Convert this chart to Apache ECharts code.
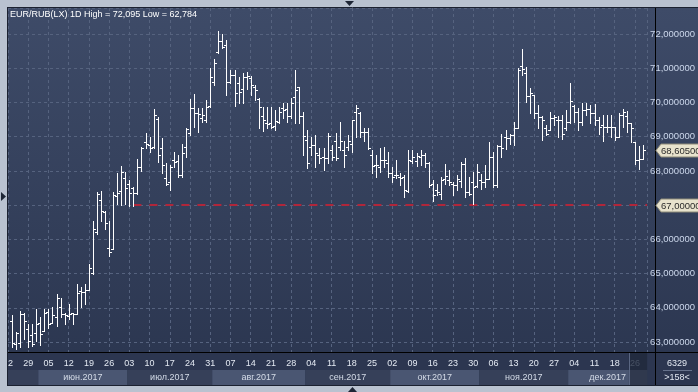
<!DOCTYPE html>
<html><head><meta charset="utf-8">
<script src="https://cdn.jsdelivr.net/npm/echarts@6/dist/echarts.min.js"></script>
<style>html,body{margin:0;padding:0;background:#b9c2d0}#c{width:698px;height:392px}</style>
</head><body><div id="c"></div>
<script>
// ---- data ----
const titleText = 'EUR/RUB(LX) 1D High = 72,095 Low = 62,784';
const weekLabels = ['22','29','05','12','19','26','03','10','17','24','31','07','14','21','28','04','11','18','25','02','09','16','23','30','06','13','20','27','04','11','18','26'];
const monthNames = ['июн.2017','июл.2017','авг.2017','сен.2017','окт.2017','ноя.2017','дек.2017'];
const monthFirstBar = [7, 29, 50, 73, 94, 116, 138];
const lastWeekFirstBar = 153;
const opens = [63.60,62.94,62.96,63.81,63.37,63.21,63.26,63.57,63.33,63.89,63.57,63.72,64.01,63.81,63.75,63.84,63.81,64.50,64.45,64.52,
65.03,66.20,67.15,66.79,65.76,65.71,67.27,67.40,67.78,67.63,67.49,67.34,68.12,68.85,68.75,68.71,69.53,68.68,67.78,67.68,
68.32,68.30,67.88,68.71,69.10,69.83,69.70,69.55,69.50,69.89,70.60,71.46,71.81,71.68,70.61,70.80,70.56,70.38,70.73,70.71,
70.44,70.09,69.60,69.41,69.40,69.30,69.44,69.83,69.80,69.60,70.17,70.46,69.59,68.90,68.70,68.76,68.45,68.40,68.37,68.60,
68.86,68.70,68.60,68.70,68.80,69.73,69.68,69.15,69.15,68.45,68.17,68.10,68.32,68.22,67.93,67.88,67.83,67.82,67.41,68.30,
68.30,68.40,68.46,68.23,67.61,67.45,67.33,67.75,67.73,67.63,67.58,67.70,68.21,67.38,67.68,67.55,67.73,67.68,67.77,68.41,
67.58,68.72,69.00,68.95,69.04,69.24,71.07,70.85,70.19,70.22,69.70,69.58,69.24,69.20,69.56,69.50,69.48,69.25,69.44,69.90,
69.73,69.44,69.78,69.80,69.68,69.48,69.35,69.29,69.27,69.29,69.00,69.63,69.60,69.39,68.85,68.31,68.36];
const highs = [63.79,63.29,63.91,63.86,63.52,63.52,63.96,63.72,63.96,63.96,64.01,64.40,64.30,63.86,64.11,63.86,64.69,64.60,64.69,65.29,
66.54,67.37,67.42,66.83,66.54,67.37,67.93,68.14,67.97,67.73,67.54,68.34,68.71,69.10,68.98,69.80,69.58,68.95,68.22,68.17,
68.56,68.46,68.80,69.24,70.09,70.25,69.83,69.83,70.07,71.00,71.26,72.095,72.00,71.82,70.95,70.95,70.73,70.85,70.90,70.76,
70.51,70.12,69.88,69.88,69.88,69.78,69.88,69.98,69.98,70.12,70.95,70.46,69.73,69.20,69.00,69.05,68.66,68.66,69.10,68.76,
69.10,69.44,68.86,69.05,69.49,69.93,69.73,69.25,69.25,68.61,68.47,68.66,68.71,68.56,68.12,68.32,67.95,67.88,68.60,68.62,
68.51,68.62,68.51,68.26,67.73,67.63,67.82,68.21,68.02,67.68,67.87,68.26,68.39,67.82,67.97,68.21,67.92,68.17,68.85,68.56,
68.75,69.09,69.19,69.09,69.44,71.00,71.56,71.03,70.41,70.22,69.92,69.60,69.34,69.73,69.63,69.60,69.63,69.78,70.56,69.92,
69.83,69.97,69.97,69.92,69.95,69.58,69.63,69.63,69.63,69.29,69.68,69.80,69.75,69.40,68.85,68.72,68.75];
const lows = [62.85,62.784,62.84,63.08,62.84,62.89,63.03,62.92,63.33,63.42,63.57,63.47,63.72,63.54,63.67,63.54,63.81,64.01,64.11,64.51,
65.00,66.15,66.54,66.30,65.50,65.71,67.03,67.00,67.03,66.98,66.98,67.32,68.00,68.66,68.56,68.66,68.27,67.95,67.58,67.44,
68.12,67.83,67.83,68.41,69.05,69.29,69.14,69.44,69.44,69.86,70.51,71.45,71.58,70.22,70.56,69.89,69.97,69.97,70.40,70.22,
70.07,69.25,69.18,69.25,69.25,69.20,69.39,69.54,69.44,69.54,69.39,69.39,68.47,68.08,68.47,68.12,68.22,68.03,68.22,68.32,
68.32,68.61,68.11,68.61,68.56,69.00,69.00,68.86,68.63,67.93,67.83,67.98,68.12,67.83,67.69,67.78,67.60,67.25,67.38,68.23,
68.14,68.17,68.12,67.53,67.12,67.29,67.19,67.63,67.58,67.29,67.43,67.53,67.24,67.29,67.02,67.53,67.48,67.53,67.77,67.53,
67.53,68.41,68.65,68.80,68.75,69.24,70.80,70.02,69.68,69.56,69.24,68.90,69.04,69.19,69.34,69.00,68.92,69.20,69.39,69.44,
69.19,69.34,69.63,69.41,69.34,69.09,68.88,69.14,69.00,68.90,69.00,69.29,69.14,68.85,68.19,68.07,68.36];
const closes = [62.96,63.26,63.81,63.60,63.03,62.94,63.54,63.23,63.86,63.52,63.79,64.30,63.81,63.79,63.81,63.83,64.42,64.45,64.52,65.16,
66.30,67.32,66.83,66.49,65.62,67.30,67.36,67.97,67.50,67.34,67.34,68.12,68.68,68.80,68.68,69.63,68.46,68.17,67.63,68.12,
68.27,67.88,68.51,69.21,69.83,69.70,69.65,69.63,69.86,70.73,71.14,71.81,71.61,70.61,70.80,70.28,70.31,70.73,70.76,70.51,
70.37,69.88,69.49,69.37,69.29,69.46,69.73,69.78,69.61,69.98,70.37,69.59,69.02,68.22,68.76,68.51,68.37,68.37,69.02,68.42,
68.37,68.86,68.47,68.86,69.49,69.83,69.15,69.15,68.66,68.14,68.17,68.32,68.32,67.93,67.83,67.88,67.80,67.45,68.31,68.41,
68.43,68.46,68.23,67.58,67.29,67.38,67.73,67.84,67.68,67.60,67.77,68.21,67.38,67.33,67.53,67.97,67.68,67.77,68.41,67.58,
68.72,68.68,68.95,69.04,69.24,70.95,70.97,70.19,70.29,69.70,69.58,69.48,69.09,69.56,69.58,69.48,69.09,69.44,70.04,69.73,
69.44,69.78,69.80,69.68,69.48,69.29,69.29,69.27,69.29,69.00,69.63,69.73,69.39,69.24,68.31,68.36,68.605];
const lastPrice = 68.605;
const levelPrice = 67.0;
const levelStartBar = 30;
const cornerTop = '6329';
const cornerBottom = '>158<';

// ---- chart ----
const FONT = '"Liberation Sans", Arial, sans-serif';
const xMin = -1, xMax = 157;
const yMin = 62.708, yMax = 72.76;
const ohlc = opens.map((o, i) => [i, o, highs[i], lows[i], closes[i]]);
const chart = echarts.init(document.getElementById('c'), null, {renderer: 'canvas'});

function renderItem(params, api) {
  const i = api.value(0);
  const pH = api.coord([i, api.value(2)]);
  const pL = api.coord([i, api.value(3)]);
  const pO = api.coord([i, api.value(1)]);
  const pC = api.coord([i, api.value(4)]);
  const x = Math.round(pH[0]) + 0.5;
  const yo = Math.round(pO[1]) + 0.5, yc = Math.round(pC[1]) + 0.5;
  const st = {stroke: '#ffffff', lineWidth: 1};
  return {type: 'group', children: [
    {type: 'line', shape: {x1: x, y1: Math.round(pH[1]), x2: x, y2: Math.round(pL[1]) + 1}, style: st},
    {type: 'line', shape: {x1: x - 2.5, y1: yo, x2: x, y2: yo}, style: st},
    {type: 'line', shape: {x1: x, y1: yc, x2: x + 2.5, y2: yc}, style: st}
  ]};
}

const isInt = v => Math.abs(v - Math.round(v)) < 1e-6;

chart.setOption({
  animation: false,
  backgroundColor: '#b9c2d0',
  grid: {left: 8, right: 43, top: 8, bottom: 40, containLabel: false},
  xAxis: {
    type: 'value', min: xMin, max: xMax, interval: 5,
    axisLine: {show: true, onZero: false, lineStyle: {color: '#000000', width: 1}},
    axisTick: {show: false},
    axisLabel: {
      show: true, margin: 7, color: '#e3e9f2', fontSize: 9, fontFamily: FONT,
      formatter: v => {
        const k = (v - xMin) / 5;
        if (!isInt(k) || k >= weekLabels.length) return '';
        const t = weekLabels[Math.round(k)];
        return Math.round(k) === weekLabels.length - 1 ? '{dim|' + t + '}' : t;
      },
      rich: {dim: {color: '#7b889f', fontSize: 9, fontFamily: FONT}}
    },
    splitLine: {show: true, lineStyle: {color: '#56637f', width: 1, type: [3, 3]}}
  },
  yAxis: {
    type: 'value', position: 'right', min: yMin, max: yMax, splitNumber: 10, minInterval: 1, maxInterval: 1,
    axisLine: {show: false}, axisTick: {show: false},
    axisLabel: {
      show: true, margin: 3, color: '#cdd8ec', fontSize: 9.5, fontFamily: FONT, align: 'left',
      formatter: v => (isInt(v) && Math.abs(v - levelPrice) > 1e-6) ? v.toFixed(6).replace('.', ',') : ''
    },
    splitLine: {show: true, lineStyle: {color: '#56637f', width: 1, type: [3, 3]}}
  },
  series: [{
    type: 'custom', data: ohlc, renderItem, clip: true, z: 5,
    encode: {x: 0, y: [1, 2, 3, 4]},
    markLine: {
      silent: true, symbol: ['none', 'none'], label: {show: false}, z: 4,
      lineStyle: {color: '#b0263a', width: 2, type: [8, 8]},
      data: [[{coord: [levelStartBar, levelPrice]}, {coord: [xMax, levelPrice]}]]
    }
  }]
});

function px(i) { return chart.convertToPixel({gridIndex: 0}, [i, yMax])[0]; }
function py(v) { return chart.convertToPixel({gridIndex: 0}, [0, v])[1]; }

const g = [];
// panel background
g.push({type: 'rect', z: -10, shape: {x: 8, y: 8, width: 690, height: 344},
  style: {fill: {type: 'linear', x: 0, y: 0, x2: 0, y2: 1, colorStops: [{offset: 0, color: '#3e4b68'}, {offset: 1, color: '#2c3751'}]}}});
g.push({type: 'rect', z: -10, shape: {x: 8, y: 352, width: 690, height: 34}, style: {fill: '#2c3650'}});
// month bands
const bandY = 370, bandH = 15;
const edges = [xMin].concat(monthFirstBar.map(b => b - 0.5)).concat([xMax]);
for (let m = 0; m < edges.length - 1; m++) {
  const x0 = px(edges[m]), x1 = px(edges[m + 1]);
  const light = m % 2 === 1;
  g.push({type: 'rect', z: -9, shape: {x: x0, y: bandY, width: x1 - x0, height: bandH},
    style: {fill: light ? '#4a5672' : '#364059'}});
  if (m >= 1) {
    g.push({type: 'text', z: 20, x: (x0 + x1) / 2, y: bandY + bandH / 2,
      style: {text: monthNames[m - 1], fill: '#d4dbe7', font: '9px ' + FONT, align: 'center', verticalAlign: 'middle'}});
  }
}
// last week highlight
const hx0 = px(lastWeekFirstBar - 0.5), hx1 = px(xMax);
g.push({type: 'rect', z: 15, shape: {x: hx0, y: 353, width: hx1 - hx0, height: 32}, style: {fill: 'rgba(28,34,50,0.55)'}});
g.push({type: 'line', z: 16, shape: {x1: Math.round(hx0) + 0.5, y1: 353, x2: Math.round(hx0) + 0.5, y2: 385}, style: {stroke: '#5a6682', lineWidth: 1}});
// black separators
g.push({type: 'line', z: 30, shape: {x1: 655.5, y1: 8, x2: 655.5, y2: 386}, style: {stroke: '#000', lineWidth: 1}});
g.push({type: 'line', z: 30, shape: {x1: 8, y1: 352.5, x2: 698, y2: 352.5}, style: {stroke: '#000', lineWidth: 1}});
// corner cell
g.push({type: 'text', z: 30, x: 677, y: 364, style: {text: cornerTop, fill: '#e3e9f2', font: '9px ' + FONT, align: 'center', verticalAlign: 'middle'}});
g.push({type: 'line', z: 30, shape: {x1: 663, y1: 370.5, x2: 692, y2: 370.5}, style: {stroke: '#66728c', lineWidth: 1}});
g.push({type: 'text', z: 30, x: 677, y: 378, style: {text: cornerBottom, fill: '#e3e9f2', font: '9px ' + FONT, align: 'center', verticalAlign: 'middle'}});
// price tags
function tag(value) {
  const yc = Math.round(py(value)) + 0.5;
  g.push({type: 'polygon', z: 40, shape: {points: [[656, yc], [661, yc - 6.5], [700, yc - 6.5], [700, yc + 6.5], [661, yc + 6.5]]},
    style: {fill: '#e8e3cd', stroke: '#8d8a78', lineWidth: 1}});
  g.push({type: 'text', z: 41, x: 661, y: yc + 0.5, style: {text: value.toFixed(6).replace('.', ','), fill: '#2b2b2b', font: '9.5px ' + FONT, verticalAlign: 'middle'}});
}
tag(lastPrice);
tag(levelPrice);
// title
g.push({type: 'text', z: 40, x: 10, y: 10, style: {text: titleText, fill: '#ffffff', font: '9px ' + FONT, verticalAlign: 'top'}});
// outer frame
g.push({type: 'rect', z: 100, shape: {x: 0, y: 0, width: 698, height: 7}, style: {fill: '#b9c2d0'}});
g.push({type: 'rect', z: 100, shape: {x: 0, y: 0, width: 7, height: 392}, style: {fill: '#b9c2d0'}});
g.push({type: 'rect', z: 100, shape: {x: 0, y: 386, width: 698, height: 6}, style: {fill: '#b9c2d0'}});
g.push({type: 'line', z: 101, shape: {x1: 7.5, y1: 7, x2: 7.5, y2: 386}, style: {stroke: '#1b2130', lineWidth: 1}});
g.push({type: 'line', z: 101, shape: {x1: 7, y1: 7.5, x2: 698, y2: 7.5}, style: {stroke: '#1b2130', lineWidth: 1}});
g.push({type: 'line', z: 101, shape: {x1: 7, y1: 385.5, x2: 698, y2: 385.5}, style: {stroke: '#1b2130', lineWidth: 1}});
// small triangles
g.push({type: 'polygon', z: 102, shape: {points: [[345, 1], [354, 1], [349.5, 6]]}, style: {fill: '#1e2636'}});
g.push({type: 'polygon', z: 102, shape: {points: [[1, 192], [1, 201], [6, 196.5]]}, style: {fill: '#1e2636'}});
g.push({type: 'polygon', z: 102, shape: {points: [[348, 392], [357, 392], [352.5, 387]]}, style: {fill: '#1e2636'}});

chart.setOption({graphic: {elements: g}});
</script></body></html>
